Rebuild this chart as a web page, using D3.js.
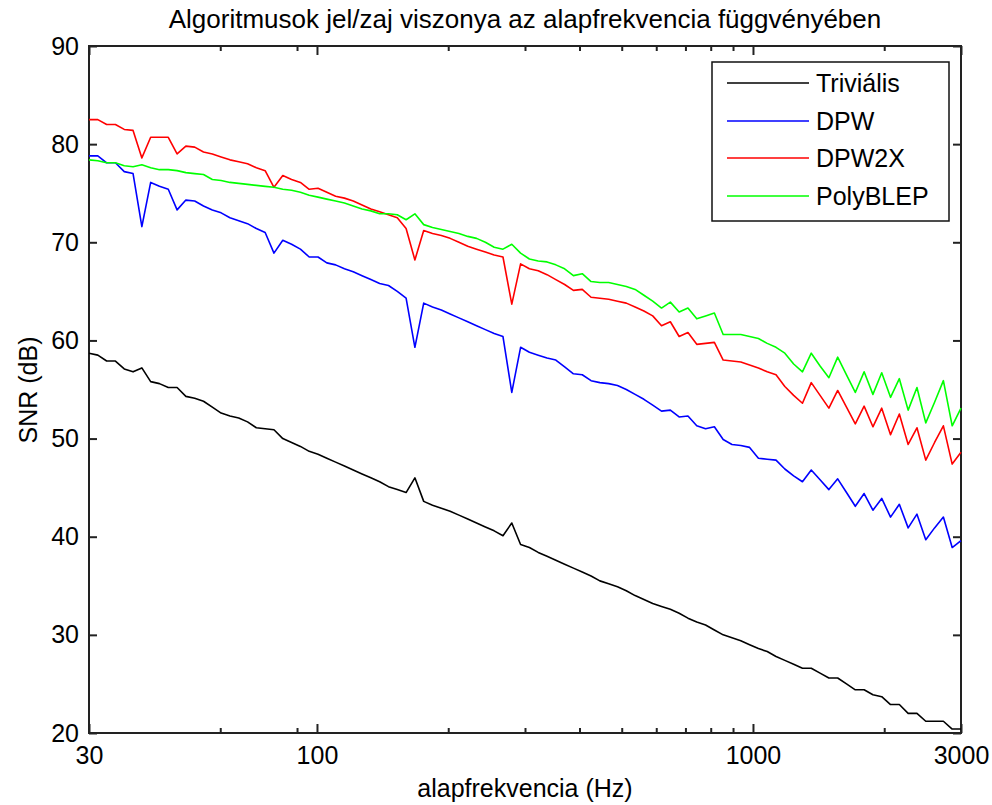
<!DOCTYPE html>
<html>
<head>
<meta charset="utf-8">
<script src="https://cdn.jsdelivr.net/npm/d3@7"></script>
<style>
  body { margin: 0; background: #fff; }
  svg text { font-family: "Liberation Sans", Arial, sans-serif; fill: #000; }
</style>
</head>
<body>
<div id="chart"></div>
<script>
// Fundamental frequencies (Hz), 100 log-spaced points from 30 to 3000
const freqs = [
  30.00, 31.43, 32.93, 34.49, 36.14, 37.86, 39.66, 41.55, 43.52, 45.60,
  47.77, 50.04, 52.43, 54.92, 57.54, 60.28, 63.15, 66.15, 69.30, 72.60,
  76.06, 79.68, 83.48, 87.45, 91.62, 95.98, 100.55, 105.34, 110.35, 115.61,
  121.11, 126.88, 132.92, 139.25, 145.88, 152.82, 160.10, 167.72, 175.71, 184.08,
  192.84, 202.02, 211.64, 221.72, 232.28, 243.34, 254.93, 267.06, 279.78, 293.10,
  307.06, 321.68, 337.00, 353.04, 369.85, 387.46, 405.91, 425.24, 445.49, 466.70,
  488.93, 512.21, 536.60, 562.15, 588.91, 616.95, 646.33, 677.11, 709.35, 743.12,
  778.51, 815.58, 854.41, 895.10, 937.72, 982.37, 1029.14, 1078.14, 1129.48, 1183.26,
  1239.60, 1298.63, 1360.46, 1425.24, 1493.11, 1564.20, 1638.68, 1716.71, 1798.45, 1884.09,
  1973.80, 2067.78, 2166.24, 2269.39, 2377.45, 2490.65, 2609.25, 2733.49, 2863.64, 3000.00
];

// SNR (dB) per algorithm
const trivialis = [
  58.7, 58.5, 57.9, 57.9, 57.1, 56.8, 57.2, 55.8, 55.6, 55.2,
  55.2, 54.3, 54.1, 53.8, 53.2, 52.6, 52.3, 52.1, 51.7, 51.1,
  51.0, 50.9, 50.0, 49.6, 49.2, 48.7, 48.4, 48.0, 47.6, 47.2,
  46.8, 46.4, 46.0, 45.6, 45.1, 44.8, 44.5, 46.0, 43.6, 43.2,
  42.9, 42.6, 42.2, 41.8, 41.4, 41.0, 40.6, 40.1, 41.4, 39.2,
  38.9, 38.4, 38.0, 37.6, 37.2, 36.8, 36.4, 36.0, 35.5, 35.2,
  34.9, 34.5, 34.0, 33.6, 33.2, 32.9, 32.6, 32.2, 31.7, 31.3,
  31.0, 30.5, 30.0, 29.7, 29.4, 29.0, 28.6, 28.3, 27.8, 27.4,
  27.0, 26.6, 26.6, 26.1, 25.6, 25.6, 25.0, 24.4, 24.4, 23.9,
  23.7, 22.9, 22.9, 22.0, 22.0, 21.2, 21.2, 21.2, 20.4, 20.4
];
const dpw = [
  78.8, 78.8, 78.1, 78.1, 77.2, 77.0, 71.6, 76.1, 75.7, 75.4,
  73.3, 74.3, 74.2, 73.7, 73.3, 73.0, 72.5, 72.2, 71.9, 71.4,
  71.0, 68.9, 70.2, 69.8, 69.3, 68.5, 68.5, 67.9, 67.7, 67.3,
  67.0, 66.6, 66.2, 65.8, 65.6, 65.0, 64.3, 59.3, 63.8, 63.4,
  63.1, 62.7, 62.3, 61.9, 61.5, 61.1, 60.7, 60.4, 54.7, 59.3,
  58.8, 58.5, 58.2, 58.0, 57.3, 56.6, 56.5, 55.9, 55.7, 55.6,
  55.4, 55.0, 54.5, 54.0, 53.4, 52.8, 52.9, 52.2, 52.3, 51.3,
  51.0, 51.2, 49.9, 49.4, 49.3, 49.1, 48.0, 47.9, 47.8, 46.9,
  46.2, 45.6, 46.8, 45.8, 44.8, 45.9, 44.5, 43.1, 44.4, 42.7,
  43.9, 42.0, 43.3, 40.9, 42.3, 39.7, 40.9, 42.0, 38.9, 39.6
];
const dpw2x = [
  82.5, 82.5, 82.0, 82.0, 81.5, 81.4, 78.6, 80.7, 80.7, 80.7,
  79.0, 79.8, 79.7, 79.2, 79.0, 78.7, 78.4, 78.2, 78.0, 77.6,
  77.3, 75.6, 76.8, 76.4, 76.1, 75.4, 75.5, 75.1, 74.7, 74.5,
  74.2, 73.8, 73.4, 73.1, 72.8, 72.5, 71.4, 68.2, 71.2, 70.9,
  70.7, 70.4, 70.0, 69.6, 69.3, 69.0, 68.7, 68.5, 63.7, 67.8,
  67.3, 67.1, 66.7, 66.2, 65.7, 65.1, 65.2, 64.4, 64.3, 64.2,
  64.0, 63.8, 63.4, 63.0, 62.5, 61.5, 61.9, 60.4, 60.8, 59.6,
  59.7, 59.8, 58.0, 57.9, 57.8, 57.5, 57.2, 56.8, 56.5, 55.3,
  54.4, 53.6, 55.7, 54.4, 53.1, 54.9, 53.2, 51.5, 53.3, 51.2,
  53.1, 50.4, 52.5, 49.4, 51.1, 47.8, 49.6, 51.3, 47.4, 48.6
];
const polyblep = [
  78.4, 78.3, 78.1, 78.1, 77.8, 77.7, 77.9, 77.6, 77.4, 77.4,
  77.3, 77.1, 77.0, 76.9, 76.4, 76.3, 76.1, 76.0, 75.9, 75.8,
  75.7, 75.6, 75.4, 75.3, 75.1, 74.8, 74.6, 74.4, 74.2, 74.0,
  73.7, 73.4, 73.2, 72.9, 72.9, 72.8, 72.3, 72.9, 71.8, 71.5,
  71.3, 71.1, 70.9, 70.6, 70.4, 70.0, 69.5, 69.3, 69.8, 68.9,
  68.3, 68.1, 68.0, 67.7, 67.3, 66.6, 66.8, 66.0, 65.9, 65.9,
  65.7, 65.5, 65.2, 64.6, 64.0, 63.3, 63.9, 62.9, 63.3, 62.2,
  62.5, 62.8, 60.6, 60.6, 60.6, 60.4, 60.2, 59.7, 59.3, 58.7,
  57.6, 56.8, 58.7, 57.4, 56.2, 58.3, 56.5, 54.7, 56.8, 54.5,
  56.7, 54.2, 56.1, 52.9, 55.2, 51.6, 53.7, 55.9, 51.3, 53.1
];

const seriesNames = ["Triviális", "DPW", "DPW2X", "PolyBLEP"];
const seriesColors = ["#000000", "#0000ff", "#ff0000", "#00ff00"];

const xMajorTicks = [30, 100, 1000, 3000];
const xMinorTicks = [60, 90, 200, 300, 400, 500, 600, 700, 800, 900, 2000];
const yTicks = [20, 30, 40, 50, 60, 70, 80, 90];

const W = 992, H = 805;
const margin = {left: 89, right: 961, top: 46, bottom: 733};

const svg = d3.select("#chart").append("svg")
  .attr("width", W)
  .attr("height", H);

const x = d3.scaleLog().domain([30, 3000]).range([margin.left, margin.right]);
const y = d3.scaleLinear().domain([20, 90]).range([margin.bottom, margin.top]);

const font = "Liberation Sans, Arial, sans-serif";
const fs = 25;

function styleAxis(g) {
  g.attr("font-family", font).attr("font-size", fs);
  g.select(".domain").remove();
  g.selectAll(".tick line").attr("stroke", "#222").attr("stroke-width", 2);
  g.selectAll(".tick text").attr("fill", "#000");
}

// Bottom axis
svg.append("g")
  .attr("transform", `translate(0,${margin.bottom})`)
  .call(d3.axisBottom(x).tickValues(xMajorTicks).tickSize(-9).tickPadding(13).tickFormat(d3.format("d")))
  .call(styleAxis);
svg.append("g")
  .attr("transform", `translate(0,${margin.bottom})`)
  .call(d3.axisBottom(x).tickValues(xMinorTicks).tickSize(-5).tickFormat(""))
  .call(styleAxis);

// Top axis (ticks only)
svg.append("g")
  .attr("transform", `translate(0,${margin.top})`)
  .call(d3.axisTop(x).tickValues(xMajorTicks).tickSize(-9).tickFormat(""))
  .call(styleAxis);
svg.append("g")
  .attr("transform", `translate(0,${margin.top})`)
  .call(d3.axisTop(x).tickValues(xMinorTicks).tickSize(-5).tickFormat(""))
  .call(styleAxis);

// Left and right axes
svg.append("g")
  .attr("transform", `translate(${margin.left},0)`)
  .call(d3.axisLeft(y).tickValues(yTicks).tickSize(-8).tickPadding(10))
  .call(styleAxis);
svg.append("g")
  .attr("transform", `translate(${margin.right},0)`)
  .call(d3.axisRight(y).tickValues(yTicks).tickSize(-8).tickFormat(""))
  .call(styleAxis);

// Axes box
svg.append("rect")
  .attr("x", margin.left)
  .attr("y", margin.top)
  .attr("width", margin.right - margin.left)
  .attr("height", margin.bottom - margin.top)
  .attr("fill", "none")
  .attr("stroke", "#222")
  .attr("stroke-width", 2);

// Lines
const series = [trivialis, dpw, dpw2x, polyblep];
const line = d3.line()
  .x((d, i) => x(freqs[i]))
  .y(d => y(d));

svg.append("g").selectAll("path")
  .data(series)
  .enter()
  .append("path")
  .attr("d", d => line(d))
  .attr("fill", "none")
  .attr("stroke", (d, i) => seriesColors[i])
  .attr("stroke-width", 1.6)
  .attr("stroke-linejoin", "round");

// Legend
const legend = svg.append("g");
legend.append("rect")
  .attr("x", 712).attr("y", 62)
  .attr("width", 237).attr("height", 159)
  .attr("fill", "#fff")
  .attr("stroke", "#111")
  .attr("stroke-width", 1.5);

const rowY = [83, 121, 158, 196];
seriesNames.forEach((name, i) => {
  legend.append("line")
    .attr("x1", 727).attr("x2", 809)
    .attr("y1", rowY[i]).attr("y2", rowY[i])
    .attr("stroke", seriesColors[i])
    .attr("stroke-width", 1.6);
  legend.append("text")
    .attr("x", 816).attr("y", rowY[i])
    .attr("dy", "0.36em")
    .attr("font-size", fs)
    .text(name);
});

// Title and axis labels
svg.append("text")
  .attr("x", (margin.left + margin.right) / 2)
  .attr("y", 28)
  .attr("text-anchor", "middle")
  .attr("font-size", 26)
  .text("Algoritmusok jel/zaj viszonya az alapfrekvencia függvényében");

svg.append("text")
  .attr("x", (margin.left + margin.right) / 2)
  .attr("y", 797)
  .attr("text-anchor", "middle")
  .attr("font-size", fs)
  .text("alapfrekvencia (Hz)");

svg.append("text")
  .attr("transform", "rotate(-90)")
  .attr("x", -390)
  .attr("y", 37)
  .attr("text-anchor", "middle")
  .attr("font-size", fs)
  .text("SNR (dB)");
</script>
</body>
</html>
